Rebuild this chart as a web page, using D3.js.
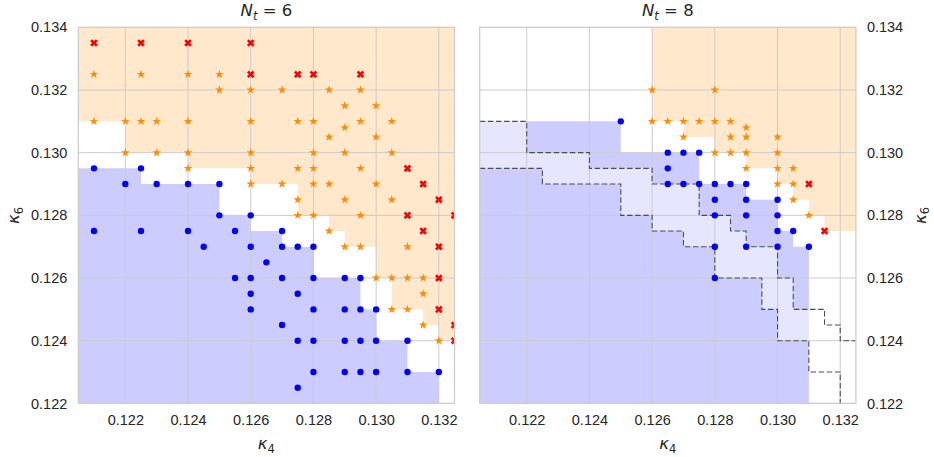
<!DOCTYPE html>
<html><head><meta charset="utf-8">
<script src="https://cdn.jsdelivr.net/npm/d3@7"></script>
<style>
html,body{margin:0;padding:0;background:#fff;}
svg{display:block;}
</style></head>
<body>
<svg id="chart" width="934" height="457"></svg>
<script>
// ---------- data ----------
const xTicks = [0.122, 0.124, 0.126, 0.128, 0.130, 0.132];
const yTicks = [0.122, 0.124, 0.126, 0.128, 0.130, 0.132, 0.134];
const xDomain = [0.1205, 0.1325];
const yDomain = [0.122, 0.134];

// N_t = 6
const nt6Blue = [
  [0.121,0.1295],[0.1225,0.1295],
  [0.122,0.129],[0.123,0.129],[0.124,0.129],[0.125,0.129],
  [0.125,0.128],[0.126,0.128],
  [0.121,0.1275],[0.1225,0.1275],[0.124,0.1275],[0.1255,0.1275],[0.127,0.1275],
  [0.1245,0.127],[0.126,0.127],[0.127,0.127],[0.1275,0.127],[0.128,0.127],
  [0.1265,0.1265],
  [0.1255,0.126],[0.126,0.126],[0.127,0.126],[0.128,0.126],[0.129,0.126],[0.1295,0.126],
  [0.126,0.1255],[0.1275,0.1255],
  [0.126,0.125],[0.128,0.125],[0.129,0.125],[0.1295,0.125],[0.130,0.125],
  [0.127,0.1245],
  [0.1275,0.124],[0.128,0.124],[0.129,0.124],[0.1295,0.124],[0.130,0.124],[0.131,0.124],
  [0.128,0.123],[0.129,0.123],[0.1295,0.123],[0.130,0.123],[0.131,0.123],[0.132,0.123],
  [0.1275,0.1225]
];
const nt6Star = [
  [0.121,0.1325],[0.1225,0.1325],[0.124,0.1325],[0.125,0.1325],
  [0.125,0.132],[0.126,0.132],[0.127,0.132],[0.1285,0.132],[0.1295,0.132],
  [0.129,0.1315],[0.130,0.1315],
  [0.121,0.131],[0.122,0.131],[0.1225,0.131],[0.123,0.131],[0.124,0.131],[0.126,0.131],
  [0.1275,0.131],[0.128,0.131],[0.1295,0.131],[0.1305,0.131],
  [0.129,0.1308],
  [0.1285,0.1305],[0.130,0.1305],
  [0.122,0.130],[0.123,0.130],[0.124,0.130],[0.126,0.130],[0.128,0.130],[0.129,0.130],[0.1305,0.130],
  [0.124,0.1295],[0.126,0.1295],[0.1275,0.1295],[0.128,0.1295],[0.1295,0.1295],
  [0.126,0.129],[0.127,0.129],[0.128,0.129],[0.1285,0.129],[0.130,0.129],
  [0.1275,0.1285],[0.129,0.1285],[0.1305,0.1285],
  [0.1275,0.128],[0.128,0.128],[0.1295,0.128],
  [0.1285,0.1275],
  [0.129,0.127],[0.1295,0.127],[0.131,0.127],
  [0.130,0.126],[0.1305,0.126],[0.131,0.126],[0.1315,0.126],
  [0.1315,0.1255],
  [0.1305,0.125],[0.131,0.125],
  [0.1315,0.1245],
  [0.132,0.124]
];
const nt6Red = [
  [0.121,0.1335],[0.1225,0.1335],[0.124,0.1335],[0.126,0.1335],
  [0.126,0.1325],[0.1275,0.1325],[0.128,0.1325],[0.1295,0.1325],
  [0.131,0.1295],[0.1315,0.129],[0.132,0.1285],[0.131,0.128],[0.1325,0.128],
  [0.1315,0.1275],[0.132,0.127],[0.132,0.126],[0.132,0.125],[0.1325,0.1245],[0.1325,0.124]
];
// region boundaries: orange = [x_start, lower y] (holds until next x), blue = [x_end, upper y]
const nt6OrangeSteps = [[0.1205,0.131],[0.122,0.130],[0.124,0.1295],[0.126,0.129],[0.1275,0.128],
  [0.1285,0.1275],[0.129,0.127],[0.130,0.126],[0.1305,0.125],[0.1315,0.1245],[0.132,0.124]];
const nt6BlueSteps = [[0.1225,0.1295],[0.125,0.129],[0.126,0.128],[0.127,0.1275],[0.128,0.127],
  [0.1295,0.126],[0.130,0.125],[0.131,0.124],[0.132,0.123]];

// N_t = 8
const nt8Blue = [
  [0.125,0.131],
  [0.1265,0.130],[0.127,0.130],[0.1275,0.130],
  [0.1265,0.1295],
  [0.1265,0.129],[0.127,0.129],[0.1275,0.129],[0.128,0.129],[0.1285,0.129],[0.129,0.129],
  [0.128,0.1285],[0.129,0.1285],[0.130,0.1285],
  [0.128,0.128],[0.129,0.128],[0.130,0.128],
  [0.130,0.1275],[0.1305,0.1275],
  [0.128,0.127],[0.129,0.127],[0.130,0.127],[0.131,0.127],
  [0.128,0.126]
];
const nt8Star = [
  [0.126,0.132],[0.128,0.132],
  [0.126,0.131],[0.1265,0.131],[0.127,0.131],[0.1275,0.131],[0.128,0.131],[0.1285,0.131],
  [0.129,0.1308],
  [0.127,0.1305],[0.1285,0.1305],[0.129,0.1305],[0.130,0.1305],
  [0.128,0.130],[0.1285,0.130],[0.129,0.130],[0.130,0.130],
  [0.129,0.1295],[0.130,0.1295],[0.1305,0.1295],
  [0.130,0.129],[0.1305,0.129],
  [0.1305,0.1285],
  [0.131,0.128]
];
const nt8Red = [[0.131,0.129],[0.1315,0.1275]];
const nt8OrangeSteps = [[0.126,0.131],[0.127,0.1305],[0.128,0.130],[0.129,0.1295],[0.130,0.129],
  [0.1305,0.1285],[0.131,0.128],[0.1315,0.1275]];
const nt8BlueSteps = [[0.125,0.131],[0.1275,0.130],[0.129,0.129],[0.130,0.1285],[0.1305,0.1275],[0.131,0.127]];

// ---------- layout ----------
const svg = d3.select('#chart');
const plotTop = 27.3, plotBottom = 403.4;
const panels = [
  {id:'p6', x0:78.3, x1:454.5, nt:'6', blue:nt6Blue, star:nt6Star, red:nt6Red,
   orange:nt6OrangeSteps, blueSteps:nt6BlueSteps, side:'left', overlay:false},
  {id:'p8', x0:479.7, x1:855.9, nt:'8', blue:nt8Blue, star:nt8Star, red:nt8Red,
   orange:nt8OrangeSteps, blueSteps:nt8BlueSteps, side:'right', overlay:true}
];
const gridColor = '#cccccc';
const textColor = '#262626';
const tickFont = '"Liberation Sans", Arial, sans-serif';
const mathFont = '"DejaVu Sans", sans-serif';

function orangeVerts(steps){
  const v = [];
  steps.forEach((s,i)=>{
    const xEnd = i < steps.length-1 ? steps[i+1][0] : xDomain[1];
    v.push([s[0], s[1]]); v.push([xEnd, s[1]]);
  });
  return v;
}
function blueVerts(steps){
  const v = [];
  steps.forEach((s,i)=>{
    const xStart = i === 0 ? xDomain[0] : steps[i-1][0];
    v.push([xStart, s[1]]); v.push([s[0], s[1]]);
  });
  const last = steps[steps.length-1];
  v.push([last[0], yDomain[0]]);
  return v;
}

panels.forEach(p=>{
  const x = d3.scaleLinear().domain(xDomain).range([p.x0, p.x1]);
  const y = d3.scaleLinear().domain(yDomain).range([plotBottom, plotTop]);
  const g = svg.append('g');
  const clipId = 'clip-'+p.id;
  svg.append('defs').append('clipPath').attr('id', clipId)
    .append('rect').attr('x', p.x0).attr('y', plotTop).attr('width', p.x1-p.x0).attr('height', plotBottom-plotTop);
  const plot = g.append('g').attr('clip-path', `url(#${clipId})`);
  const line = d3.line().x(d=>x(d[0])).y(d=>y(d[1]));

  // orange region
  const ov = orangeVerts(p.orange);
  const oPoly = [[ov[0][0], yDomain[1]], ...ov, [ov[ov.length-1][0], yDomain[1]]];
  plot.append('path').attr('d', line(oPoly)+'Z').attr('fill','darkorange').attr('fill-opacity',0.2);
  // blue region
  const bv = blueVerts(p.blueSteps);
  const bPoly = [[xDomain[0], yDomain[0]], ...bv];
  plot.append('path').attr('d', line(bPoly)+'Z').attr('fill','blue').attr('fill-opacity',0.2);

  // overlay of N_t=6 transition zone
  let topV, botV;
  if (p.overlay){
    topV = orangeVerts(nt6OrangeSteps);
    botV = blueVerts(nt6BlueSteps);
    const poly = [...topV, [xDomain[1], yDomain[0]], ...botV.slice().reverse()];
    plot.append('path').attr('d', line(poly)+'Z').attr('fill','white').attr('fill-opacity',0.5);
  }

  // grid
  plot.selectAll('.gx').data(xTicks).enter().append('line')
    .attr('x1', d=>x(d)).attr('x2', d=>x(d)).attr('y1', plotTop).attr('y2', plotBottom)
    .attr('stroke', gridColor).attr('stroke-width', 1);
  plot.selectAll('.gy').data(yTicks).enter().append('line')
    .attr('y1', d=>y(d)).attr('y2', d=>y(d)).attr('x1', p.x0).attr('x2', p.x1)
    .attr('stroke', gridColor).attr('stroke-width', 1);

  if (p.overlay){
    [topV, botV].forEach(v=>{
      plot.append('path').attr('d', line(v)).attr('fill','none')
        .attr('stroke','#4d4d4d').attr('stroke-width',1.1).attr('stroke-dasharray','5.5,2.6');
    });
  }

  // markers
  plot.selectAll('.b').data(p.blue).enter().append('circle')
    .attr('cx', d=>x(d[0])).attr('cy', d=>y(d[1])).attr('r', 3.2).attr('fill','blue');
  const star = d3.symbol(d3.symbolStar, 24);
  plot.selectAll('.s').data(p.star).enter().append('path')
    .attr('d', star).attr('transform', d=>`translate(${x(d[0])},${y(d[1])})`)
    .attr('fill','darkorange');
  const cross = d3.symbol(d3.symbolCross, 36);
  plot.selectAll('.r').data(p.red).enter().append('path')
    .attr('d', cross).attr('transform', d=>`translate(${x(d[0])},${y(d[1])}) rotate(45)`)
    .attr('fill','red');

  // frame
  g.append('rect').attr('x', p.x0).attr('y', plotTop).attr('width', p.x1-p.x0).attr('height', plotBottom-plotTop)
    .attr('fill','none').attr('stroke', gridColor).attr('stroke-width', 1.25);

  // axes
  const xa = g.append('g').attr('transform', `translate(0,${plotBottom})`)
    .call(d3.axisBottom(x).tickValues(xTicks).tickFormat(d3.format('.3f')).tickSize(0).tickPadding(11));
  const ya = g.append('g').attr('transform', `translate(${p.side==='left'?p.x0:p.x1},0)`)
    .call((p.side==='left'?d3.axisLeft(y):d3.axisRight(y)).tickValues(yTicks).tickFormat(d3.format('.3f')).tickSize(0).tickPadding(11));
  [xa, ya].forEach(a=>{
    a.select('.domain').remove();
    a.selectAll('text').attr('font-family', tickFont).attr('font-size', 14.5).attr('fill', textColor);
  });

  const cx = (p.x0+p.x1)/2;
  // title
  const t = g.append('text').attr('x', cx).attr('y', 16).attr('text-anchor','middle')
    .attr('font-family', mathFont).attr('font-size', 16.5).attr('fill', textColor);
  t.append('tspan').attr('font-style','italic').text('N');
  t.append('tspan').attr('font-style','italic').attr('font-size', 11.5).attr('dy', 3.5).text('t');
  t.append('tspan').attr('dy', -3.5).text(' = ' + p.nt);

  // x label
  const xl = g.append('text').attr('x', cx).attr('y', 449).attr('text-anchor','middle')
    .attr('font-family', mathFont).attr('font-size', 16.5).attr('fill', textColor);
  xl.append('tspan').attr('font-style','italic').text('\u03BA');
  xl.append('tspan').attr('font-size', 11.5).attr('dy', 3.5).text('4');

  // y label
  const ylx = p.side==='left' ? 14 : 920.5;
  const yl = g.append('text').attr('transform', `translate(${ylx},${(plotTop+plotBottom)/2}) rotate(-90)`)
    .attr('text-anchor','middle').attr('dy', 5)
    .attr('font-family', mathFont).attr('font-size', 16.5).attr('fill', textColor);
  yl.append('tspan').attr('font-style','italic').text('\u03BA');
  yl.append('tspan').attr('font-size', 11.5).attr('dy', 3.5).text('6');
});
</script>
</body></html>
